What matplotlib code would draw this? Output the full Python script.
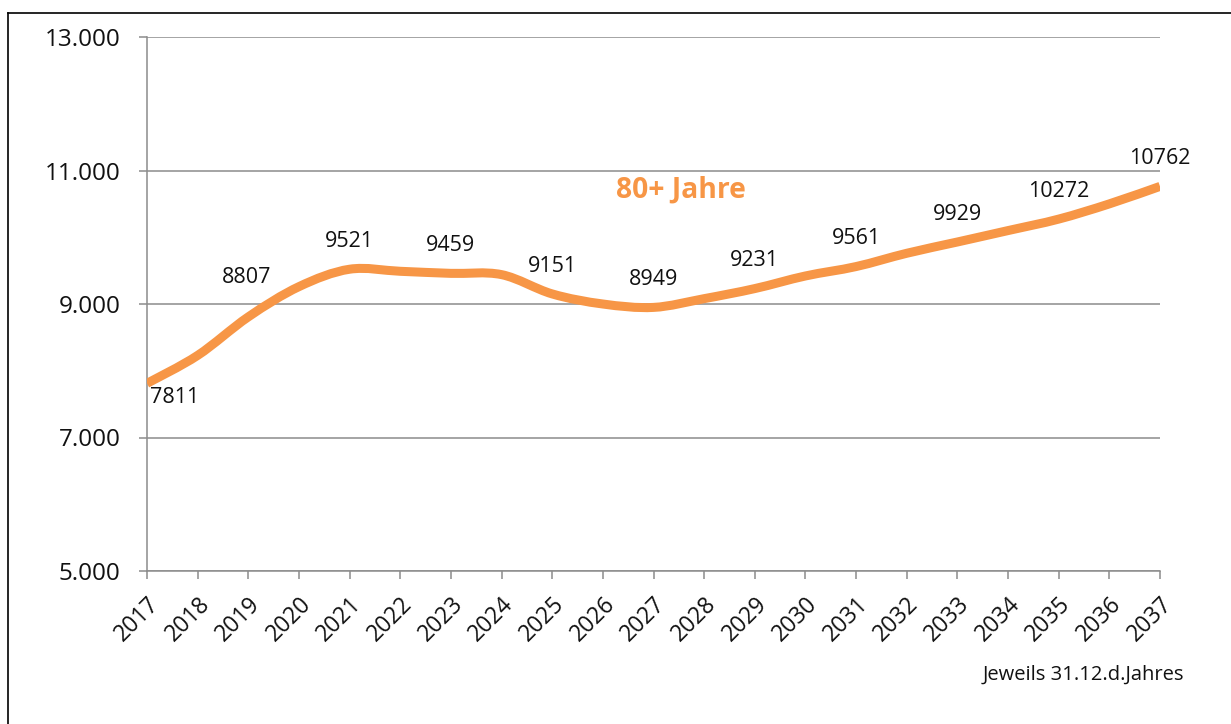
import matplotlib.pyplot as plt
from matplotlib.path import Path
from matplotlib.patches import PathPatch
from matplotlib.lines import Line2D
import numpy as np

plt.rcParams['font.family'] = ['Open Sans', 'DejaVu Sans']

years = list(range(2017, 2038))
values = [7811, 8230, 8807, 9260, 9521, 9490, 9459, 9440, 9151, 9000, 8949,
          9080, 9231, 9420, 9561, 9760, 9929, 10100, 10272, 10500, 10762]
# labels only on every other year
label_years = [2017, 2019, 2021, 2023, 2025, 2027, 2029, 2031, 2033, 2035, 2037]
yticks = [5000, 7000, 9000, 11000, 13000]
ytick_labels = ['5.000', '7.000', '9.000', '11.000', '13.000']

orange = '#F79646'
grid_col = '#8C8C8C'


def smooth_path(x, y, k=1/6):
    # Excel-like smoothed line: catmull-rom segments as cubic beziers
    x = np.asarray(x, float)
    y = np.asarray(y, float)
    n = len(x)
    verts = [(x[0], y[0])]
    codes = [Path.MOVETO]
    for i in range(n - 1):
        i0 = max(i - 1, 0)
        i3 = min(i + 2, n - 1)
        c1 = (x[i] + (x[i + 1] - x[i0]) * k, y[i] + (y[i + 1] - y[i0]) * k)
        c2 = (x[i + 1] - (x[i3] - x[i]) * k, y[i + 1] - (y[i3] - y[i]) * k)
        verts += [c1, c2, (x[i + 1], y[i + 1])]
        codes += [Path.CURVE4] * 3
    return Path(verts, codes)


fig = plt.figure(figsize=(12.31, 7.24), dpi=100)
ax = fig.add_axes([147 / 1231, 1 - 571 / 724, (1160 - 147) / 1231, (571 - 37) / 724])

ax.add_patch(PathPatch(smooth_path(years, values), facecolor='none',
                       edgecolor=orange, lw=6.5, capstyle='butt',
                       joinstyle='round', zorder=3))

ax.set_xlim(2017, 2037)
ax.set_ylim(5000, 13000)
ax.set_yticks(yticks)
ax.set_yticklabels(ytick_labels, fontsize=17.5, color='#111111')
ax.set_xticks(years)
ax.set_xticklabels([str(y) for y in years], rotation=45, ha='right',
                   rotation_mode='anchor', fontsize=16.5, color='#111111')

ax.grid(axis='y', color=grid_col, lw=1.1)
ax.set_axisbelow(True)
for s in ['top', 'right']:
    ax.spines[s].set_visible(False)
for s in ['left', 'bottom']:
    ax.spines[s].set_color(grid_col)
    ax.spines[s].set_linewidth(1.1)
ax.tick_params(axis='both', direction='out', length=6, width=1.1, color=grid_col)
ax.tick_params(axis='y', pad=13)
ax.tick_params(axis='x', pad=9)

for yr, v in zip(years, values):
    if yr not in label_years:
        continue
    if yr == 2017:
        ax.annotate(str(v), (yr, v), xytext=(2, -10), textcoords='offset points',
                    ha='left', va='center', fontsize=15.5, color='#111111')
    elif yr == 2019:
        ax.annotate(str(v), (yr, v), xytext=(-1, 28), textcoords='offset points',
                    ha='center', va='center', fontsize=15.5, color='#111111')
    else:
        ax.annotate(str(v), (yr, v), xytext=(0, 20), textcoords='offset points',
                    ha='center', va='center', fontsize=15.5, color='#111111')

fig.text(681 / 1231, 1 - 190 / 724, '80+ Jahre', color=orange, fontsize=20.3,
         fontweight='bold', ha='center', va='center')
fig.text(1083 / 1231, 1 - 675 / 724, 'Jeweils 31.12.d.Jahres', fontsize=14.5,
         color='#111111', ha='center', va='center')

# outer frame: only top and left edges are visible
fig.add_artist(Line2D([8 / 1231, 1], [1 - 13 / 724, 1 - 13 / 724],
                      transform=fig.transFigure, color='black', lw=1.2))
fig.add_artist(Line2D([8 / 1231, 8 / 1231], [0, 1 - 13 / 724],
                      transform=fig.transFigure, color='black', lw=1.2))

fig.savefig('out.png', dpi=100)
